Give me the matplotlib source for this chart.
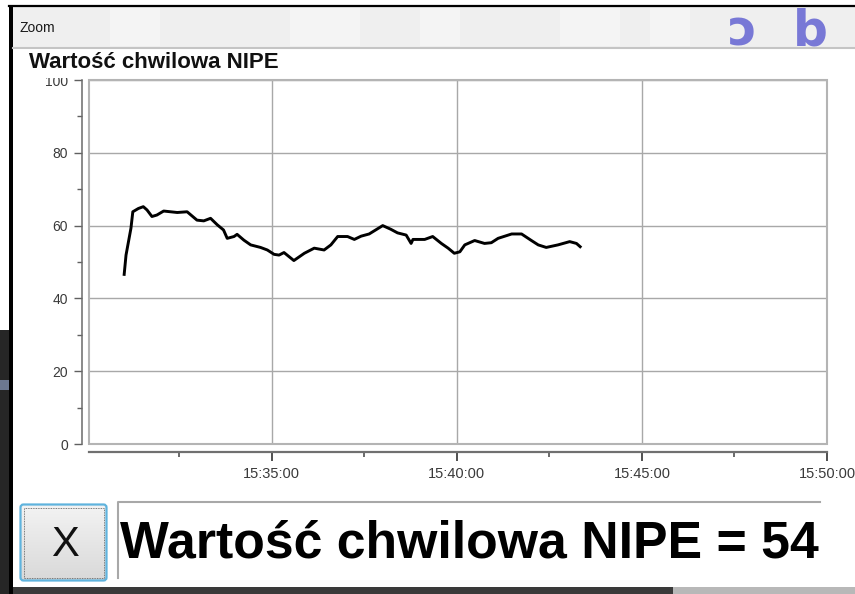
import matplotlib
matplotlib.use("Agg")
import matplotlib.pyplot as plt
import matplotlib.dates as mdates
from matplotlib.ticker import MultipleLocator, FixedLocator
from matplotlib.patches import Rectangle, FancyBboxPatch
from matplotlib.transforms import Bbox, TransformedBbox
import numpy as np
import pandas as pd

W, H = 855, 594
DAY = "2000-01-01 "

window_title = "Zoom"
chart_title = "Wartość chwilowa NIPE"
readout_label = "Wartość chwilowa NIPE = 54"
button_label = "X"
background_letters = ["ɔ", "b"]

times = ["15:31:01", "15:31:04", "15:31:12", "15:31:15", "15:31:24", "15:31:32", "15:31:38",
         "15:31:46", "15:31:54", "15:32:05", "15:32:16", "15:32:27", "15:32:43", "15:32:59",
         "15:33:10", "15:33:21", "15:33:32", "15:33:42", "15:33:48", "15:33:59", "15:34:04",
         "15:34:15", "15:34:26", "15:34:42", "15:34:53", "15:35:04", "15:35:12", "15:35:20",
         "15:35:36", "15:35:53", "15:36:09", "15:36:25", "15:36:36", "15:36:47", "15:37:03",
         "15:37:14", "15:37:25", "15:37:38", "15:38:00", "15:38:13", "15:38:24", "15:38:38",
         "15:38:46", "15:38:49", "15:39:08", "15:39:21", "15:39:35", "15:39:46", "15:39:56",
         "15:40:05", "15:40:13", "15:40:29", "15:40:45", "15:40:56", "15:41:07", "15:41:29",
         "15:41:45", "15:42:01", "15:42:12", "15:42:25", "15:42:44", "15:43:03", "15:43:14",
         "15:43:20"]
nipe_values = [46.6, 51.9, 59.3, 63.8, 64.7, 65.2, 64.3, 62.5, 62.9, 64.0, 63.8, 63.6, 63.8,
               61.5, 61.3, 62.0, 60.2, 58.8, 56.5, 57.0, 57.6, 56.0, 54.7, 54.0, 53.3, 52.1,
               51.9, 52.6, 50.4, 52.4, 53.8, 53.3, 54.7, 57.0, 57.0, 56.2, 57.1, 57.7, 60.0,
               59.0, 58.0, 57.4, 55.1, 56.2, 56.2, 57.0, 55.1, 53.8, 52.4, 52.8, 54.7, 55.9,
               55.1, 55.3, 56.5, 57.7, 57.7, 55.9, 54.7, 54.0, 54.7, 55.6, 55.1, 54.2]

y_ticks = [0, 20, 40, 60, 80, 100]
x_major_ticks = ["15:35:00", "15:40:00", "15:45:00", "15:50:00"]
x_minor_ticks = ["15:32:30", "15:37:30", "15:42:30", "15:47:30"]
x_range = ["15:30:04", "15:50:00"]
y_range = [0, 100]

plt.rcParams["font.family"] = ["Liberation Sans", "DejaVu Sans"]

fig = plt.figure(figsize=(W / 100, H / 100), dpi=100)
fig.patch.set_facecolor("white")

# ---------- background / window chrome (pixel coordinates) ----------
bg = fig.add_axes([0, 0, 1, 1], zorder=-5)
bg.set_xlim(0, W)
bg.set_ylim(H, 0)
bg.axis("off")

def rect(x0, y0, x1, y1, **kw):
    bg.add_patch(Rectangle((x0, y0), x1 - x0, y1 - y0, **kw))

# title bar
rect(13, 7, W, 47, facecolor="#efefef", edgecolor="none")
for xs, w in [(110, 50), (290, 70), (420, 40), (560, 60), (650, 40)]:
    rect(xs, 8, xs + w, 46, facecolor="#f4f4f4", edgecolor="none")
bg.plot([13, W], [47.5, 47.5], color="#c4c4c4", lw=1.5)
bg.plot([9, W], [6, 6], color="black", lw=1.6)
# left window edge
rect(0, 330, 9, H, facecolor="#262626", edgecolor="none")
rect(0, 380, 9, 390, facecolor="#6c7890", edgecolor="none")
rect(9, 6, 13, H, facecolor="black", edgecolor="none")
# bottom edge
rect(13, 587, 673, H, facecolor="#3a3a3a", edgecolor="none")
rect(673, 587, W, H, facecolor="#b8b8b8", edgecolor="none")

bg.text(19, 32, window_title, fontsize=10, color="#1a1a1a", va="baseline", ha="left")

for ch, x in zip(background_letters, [728, 793]):
    bg.text(x, 45, ch, fontsize=35, fontweight="bold", color="#5a5ad0", alpha=0.8,
            va="baseline", ha="left", family=["DejaVu Sans"])

# chart title
bg.text(29, 68.3, chart_title, fontsize=16, fontweight="bold", color="#111111",
        va="baseline", ha="left")

# button
grad = np.linspace(0, 1, 64).reshape(-1, 1)
bg.imshow(grad, extent=(21, 106, 580, 505), cmap=matplotlib.colors.LinearSegmentedColormap.from_list(
    "btn", ["#f3f3f3", "#e6e6e6", "#d9d9d9"]), aspect="auto", zorder=1)
bg.add_patch(FancyBboxPatch((20.5, 504.5), 86, 76, boxstyle="round,pad=0,rounding_size=3",
                            facecolor="none", edgecolor="#5fb3dd", lw=1.6, zorder=2))
bg.add_patch(Rectangle((23.5, 507.5), 80, 70, facecolor="none", edgecolor="#555555",
                       lw=0.6, linestyle=(0, (1, 1)), zorder=2))
bg.text(65, 556, button_label, fontsize=30, color="#111111", ha="center", va="baseline", zorder=3)

# readout text box
bg.plot([118, 118, 820], [578, 502, 502], color="#a8a8a8", lw=1.5)
bg.text(120, 558, readout_label, fontsize=37.3, fontweight="bold", color="black",
        ha="left", va="baseline")

bg.set_xlim(0, W)
bg.set_ylim(H, 0)

# ---------- chart ----------
L, R, T, B = 89, 827, 80, 444
ax = fig.add_axes([L / W, 1 - B / H, (R - L) / W, (B - T) / H])
ax.set_facecolor("white")

t = pd.to_datetime([DAY + s for s in times])
ax.plot(t, nipe_values, color="black", lw=2.1, solid_joinstyle="round", zorder=3)

ax.set_ylim(*y_range)
ax.set_xlim(pd.Timestamp(DAY + x_range[0]), pd.Timestamp(DAY + x_range[1]))

ax.yaxis.set_major_locator(FixedLocator(y_ticks))
ax.yaxis.set_minor_locator(MultipleLocator(10))
ax.xaxis.set_major_locator(FixedLocator(mdates.date2num(pd.to_datetime([DAY + s for s in x_major_ticks]))))
ax.xaxis.set_minor_locator(FixedLocator(mdates.date2num(pd.to_datetime([DAY + s for s in x_minor_ticks]))))
ax.xaxis.set_major_formatter(mdates.DateFormatter("%H:%M:%S"))

ax.grid(True, which="major", color="#a8a8a8", lw=1.0, zorder=1)
ax.set_axisbelow(True)

for s in ["top", "right"]:
    ax.spines[s].set_visible(False)
ax.spines["left"].set_position(("outward", 5.0))
ax.spines["bottom"].set_position(("outward", 5.4))
ax.spines["left"].set_color("#6a6a6a")
ax.spines["left"].set_linewidth(1.1)
ax.spines["bottom"].set_color("#707070")
ax.spines["bottom"].set_linewidth(1.6)

ax.add_patch(Rectangle((0, 0), 1, 1, transform=ax.transAxes, fill=False,
                       edgecolor="#b4b4b4", lw=1.5, clip_on=False, zorder=4))

ax.tick_params(axis="y", which="major", length=5.8, width=1.0, color="#606060",
               direction="out", pad=4.3, labelsize=10, labelcolor="#3a3a3a")
ax.tick_params(axis="y", which="minor", length=3.4, width=1.0, color="#606060", direction="out")
ax.tick_params(axis="x", which="major", length=6.5, width=1.4, color="#505050",
               direction="out", pad=5, labelsize=10.5, labelcolor="#3a3a3a")
ax.tick_params(axis="x", which="minor", length=3.6, width=1.2, color="#505050", direction="out")

fig.canvas.draw()
clip_top = TransformedBbox(Bbox.from_extents(0, 0, 1, 1 - 78 / H), fig.transFigure)
for lbl in ax.get_yticklabels():
    if lbl.get_text() == "100":
        lbl.set_clip_on(True)
        lbl.set_clip_box(clip_top)

fig.savefig("out.png", dpi=100, facecolor="white")
